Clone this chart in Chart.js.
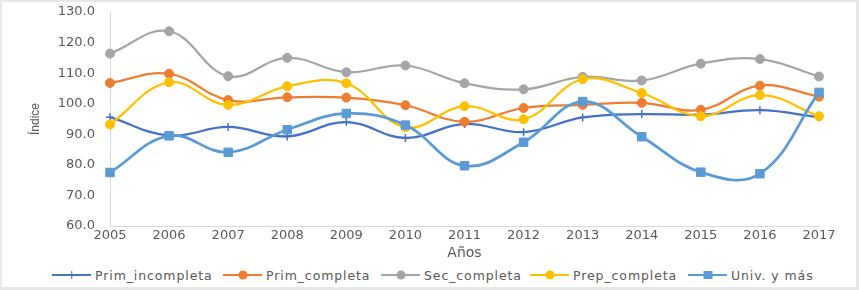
<!DOCTYPE html>
<html>
<head>
<meta charset="utf-8">
<script src="https://cdn.jsdelivr.net/npm/chart.js@4.4.1/dist/chart.umd.min.js"></script>
<style>
  html, body { margin: 0; padding: 0; background: #e8e8e8; }
  #frame {
    position: absolute; left: 2px; top: 2px; width: 854px; height: 285px;
    background: #fff; overflow: hidden;
  }
  #chart-wrap { position: absolute; left: 0; top: 0; width: 854px; height: 260px; }
  #legend { position: absolute; top: 264px; left: 0; width: 854px; height: 20px; }
  .leg-item {
    position: absolute; top: 0; height: 18px; display: flex; align-items: center;
    font-family: "DejaVu Sans", sans-serif; font-size: 12.5px; letter-spacing: 0.9px;
    color: #595959; white-space: nowrap;
  }
  .leg-icon { position: relative; width: 39px; height: 18px; margin-right: 4px; }
  .leg-line { position: absolute; left: 0; top: 8px; width: 39px; height: 2px; }
  .leg-mark { position: absolute; left: 50%; top: 50%; transform: translate(-50%, -50%); }
</style>
</head>
<body>
<div id="frame">
  <div id="chart-wrap"><canvas id="lineChart"></canvas></div>
  <div id="legend"></div>
</div>
<script>
// ========== データ ==========
const years = ["2005", "2006", "2007", "2008", "2009", "2010", "2011", "2012", "2013", "2014", "2015", "2016", "2017"];

const primIncompleta = [95.6, 89.6, 92.4, 89.3, 94.0, 88.8, 93.4, 90.7, 95.5, 96.6, 96.4, 97.9, 95.6];
const primCompleta   = [106.8, 109.8, 101.2, 102.1, 102.0, 99.5, 94.1, 98.6, 99.6, 100.3, 98.0, 105.9, 102.3];
const secCompleta    = [116.4, 123.7, 109.0, 115.0, 110.3, 112.5, 106.7, 104.7, 108.8, 107.6, 113.1, 114.6, 108.9];
const prepCompleta   = [93.2, 107.0, 99.6, 105.7, 106.7, 92.3, 99.2, 94.9, 108.0, 103.5, 95.9, 102.8, 95.9];
const univYMas       = [77.5, 89.5, 84.1, 91.5, 96.8, 93.0, 79.7, 87.4, 100.7, 89.2, 77.6, 77.1, 103.7];

const seriesNames = ["Prim_incompleta", "Prim_completa", "Sec_completa", "Prep_completa", "Univ. y más"];

// ========== スタイル ==========
const TEXT_COLOR = "#595959";
const AXIS_COLOR = "#d9d9d9";
const FONT = "'DejaVu Sans', sans-serif";

const styles = [
  { color: "#4472C4", point: "cross",  radius: 4,   width: 2.25, pbw: 1.5 },
  { color: "#ED7D31", point: "circle", radius: 4.5, width: 2.25, pbw: 1 },
  { color: "#A5A5A5", point: "circle", radius: 4.5, width: 2.25, pbw: 1 },
  { color: "#FFC000", point: "circle", radius: 4.5, width: 2.25, pbw: 1 },
  { color: "#5B9BD5", point: "rect",   radius: 6,   width: 2.75, pbw: 1 }
];

const seriesData = [primIncompleta, primCompleta, secCompleta, prepCompleta, univYMas];

// Excel と同じく後の系列を上に描く
const datasets = seriesData.map((d, i) => ({
  label: seriesNames[i],
  data: d,
  borderColor: styles[i].color,
  backgroundColor: styles[i].color,
  borderWidth: styles[i].width,
  pointStyle: styles[i].point,
  pointRadius: styles[i].radius,
  pointBorderWidth: styles[i].pbw,
  pointBorderColor: styles[i].color,
  pointBackgroundColor: styles[i].color,
  tension: 0.4,
  fill: false,
  order: seriesData.length - i
}));

// ========== グラフ描画 ==========
new Chart(document.getElementById("lineChart").getContext("2d"), {
  type: "line",
  data: { labels: years, datasets: datasets },
  options: {
    responsive: true,
    maintainAspectRatio: false,
    animation: false,
    layout: { padding: { top: 10, right: 37, left: 0, bottom: 0 } },
    plugins: { legend: { display: false }, tooltip: { enabled: false } },
    scales: {
      x: {
        offset: false,
        grid: { display: false, drawTicks: false },
        border: { display: true, color: AXIS_COLOR, width: 1 },
        ticks: { color: TEXT_COLOR, font: { family: FONT, size: 13 }, padding: 2, maxRotation: 0 },
        title: { display: true, text: "Años", color: TEXT_COLOR, font: { family: FONT, size: 14 }, padding: { top: 0, bottom: 0 } },
        afterFit: function(scale) { scale.height = 36; }
      },
      y: {
        min: 60,
        max: 130,
        grid: { display: false, drawTicks: false },
        border: { display: true, color: AXIS_COLOR, width: 1 },
        ticks: {
          stepSize: 10,
          color: TEXT_COLOR,
          font: { family: FONT, size: 13 },
          padding: 15,
          callback: v => Number(v).toFixed(1)
        },
        title: {
          display: true, text: "Índice", color: TEXT_COLOR,
          font: { family: "'Liberation Sans Narrow', 'Liberation Sans', sans-serif", size: 12 },
          padding: { top: 26, bottom: 0 }
        },
        afterFit: function(scale) {
          scale.width = 108;
          // ラベル間隔のぶん上下に余白が付かないようにする
          scale.paddingTop = 0;
          scale.paddingBottom = 0;
        }
      }
    }
  }
});

// ========== 凡例 ==========
const legendLeft = [50, 221, 379, 528, 686];
const legend = document.getElementById("legend");
seriesNames.forEach((name, i) => {
  const st = styles[i];
  const item = document.createElement("div");
  item.className = "leg-item";
  item.style.left = legendLeft[i] + "px";
  let mark = "";
  if (st.point === "circle") {
    mark = `<div class="leg-mark" style="width:9px;height:9px;border-radius:50%;background:${st.color}"></div>`;
  } else if (st.point === "rect") {
    mark = `<div class="leg-mark" style="width:9px;height:8px;background:${st.color}"></div>`;
  } else {
    mark = `<div class="leg-mark" style="width:1.5px;height:8px;background:${st.color}"></div>`;
  }
  item.innerHTML = `<div class="leg-icon"><div class="leg-line" style="background:${st.color}"></div>${mark}</div><span>${name}</span>`;
  legend.appendChild(item);
});
</script>
</body>
</html>
